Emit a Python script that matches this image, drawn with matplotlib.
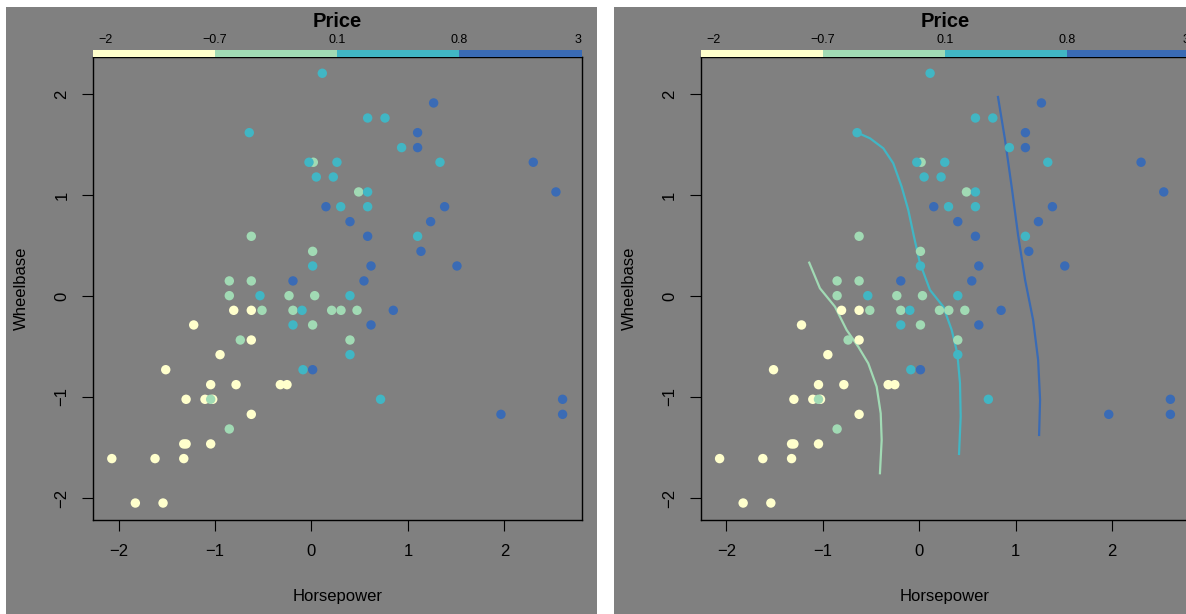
import numpy as np
import matplotlib.pyplot as plt
from matplotlib.patches import Rectangle

plt.rcParams['font.family'] = ['Liberation Sans', 'DejaVu Sans']

# price classes: 0 -> [-2,-0.7), 1 -> [-0.7,0.1), 2 -> [0.1,0.8), 3 -> [0.8,3]
price_breaks = ['\u22122', '\u22120.7', '0.1', '0.8', '3']
class_colors = ['#FFFFCC', '#A1DAB4', '#41B6C4', '#3A6BB5']

horsepower = [0.112, 0.582, 0.762, -0.645, 1.266, 1.100, 0.934, 1.100, 0.019, -0.026,
              0.264, 1.332, 2.299, 0.050, 0.226, 0.489, 0.582, 2.534, 0.150, 0.303,
              0.582, 1.380, 0.399, 1.235, -0.624, 0.582, 1.100, 0.012, 1.135, 0.012,
              0.617, 1.508, -0.852, -0.624, -0.192, 0.544, -0.852, -0.534, -0.233, 0.033,
              0.399, -0.806, -0.624, -0.513, -0.192, -0.098, 0.209, 0.306, 0.472, 0.848,
              -1.221, -0.192, 0.012, 0.617, -0.738, -0.624, 0.399, -0.948, 0.399, -1.511,
              -0.088, 0.012, -1.045, -0.782, -0.323, -0.254, -1.300, -1.104, -1.024, -1.045,
              0.716, 2.603, -0.624, 1.964, 2.603, -0.852, -1.324, -1.300, -1.045, -2.070,
              -1.622, -1.324, -1.826, -1.539]
wheelbase = [2.205, 1.762, 1.762, 1.617, 1.911, 1.617, 1.469, 1.469, 1.324, 1.324,
             1.324, 1.324, 1.324, 1.178, 1.178, 1.030, 1.030, 1.030, 0.884, 0.884,
             0.884, 0.884, 0.736, 0.736, 0.591, 0.591, 0.591, 0.442, 0.442, 0.297,
             0.297, 0.297, 0.149, 0.149, 0.149, 0.149, 0.003, 0.003, 0.003, 0.003,
             0.003, -0.142, -0.142, -0.142, -0.142, -0.142, -0.142, -0.142, -0.142, -0.142,
             -0.287, -0.287, -0.287, -0.287, -0.436, -0.436, -0.436, -0.581, -0.581, -0.730,
             -0.730, -0.730, -0.878, -0.878, -0.878, -0.878, -1.023, -1.023, -1.023, -1.023,
             -1.023, -1.023, -1.172, -1.172, -1.172, -1.317, -1.465, -1.465, -1.465, -1.610,
             -1.610, -1.610, -2.050, -2.050]
price_class = [2, 2, 2, 2, 3, 3, 2, 3, 1, 2,
               2, 2, 3, 2, 2, 1, 2, 3, 3, 2,
               2, 3, 3, 3, 1, 3, 2, 1, 3, 2,
               3, 3, 1, 1, 3, 3, 1, 2, 1, 1,
               2, 0, 0, 1, 1, 2, 1, 1, 1, 3,
               0, 2, 1, 3, 1, 0, 1, 0, 2, 0,
               2, 3, 0, 0, 0, 0, 0, 0, 0, 1,
               2, 3, 0, 3, 3, 1, 0, 0, 0, 0,
               0, 0, 0, 0]

# class boundary curves (right panel)
line_green_x = [-1.141, -1.030, -0.874, -0.753, -0.633, -0.529, -0.442, -0.400, -0.390, -0.408]
line_green_y = [0.330, 0.076, -0.106, -0.337, -0.502, -0.667, -0.898, -1.162, -1.426, -1.755]
line_teal_x = [-0.643, -0.511, -0.373, -0.270, -0.183, -0.114, -0.055, 0.007, 0.111, 0.249,
               0.336, 0.394, 0.422, 0.429, 0.412]
line_teal_y = [1.617, 1.561, 1.462, 1.314, 1.082, 0.851, 0.587, 0.324, 0.059, -0.106,
               -0.337, -0.568, -0.864, -1.195, -1.564]
line_blue_x = [0.816, 0.889, 0.962, 1.024, 1.097, 1.180, 1.232, 1.252, 1.242]
line_blue_y = [1.970, 1.545, 1.050, 0.604, 0.158, -0.238, -0.634, -1.030, -1.376]

W, H = 1186, 614
fig = plt.figure(figsize=(W / 100, H / 100), dpi=100)
fig.patch.set_facecolor('white')

grey = '#808080'
panel_shift = 607.8


def fx(px):
    return px / W


def fy(py):
    return 1 - py / H


def draw_panel(x0, with_lines):
    # grey panel background
    fig.patches.append(Rectangle((fx(x0 + 6), 0), fx(591), fy(7), transform=fig.transFigure,
                                 facecolor=grey, edgecolor='none', zorder=-10))
    ax = fig.add_axes([fx(x0 + 93), fy(520), fx(488.6), (520 - 57) / H])
    ax.set_facecolor(grey)
    cols = [class_colors[c] for c in price_class]
    ax.scatter(horsepower, wheelbase, c=cols, s=46, edgecolors='none', zorder=3)
    if with_lines:
        ax.plot(line_green_x, line_green_y, color=class_colors[1], lw=1.6, zorder=2)
        ax.plot(line_teal_x, line_teal_y, color=class_colors[2], lw=1.6, zorder=2)
        ax.plot(line_blue_x, line_blue_y, color=class_colors[3], lw=1.6, zorder=2)
    ax.set_xlim(-2.265, 2.80)
    ax.set_ylim(-2.218, 2.366)
    ticks = [-2, -1, 0, 1, 2]
    ax.set_xticks(ticks)
    ax.set_xticklabels([str(t).replace('-', '\u2212') for t in ticks])
    ax.set_yticks(ticks)
    ax.set_yticklabels([str(t).replace('-', '\u2212') for t in ticks], rotation=90, va='center')
    ax.tick_params(direction='out', length=8, width=0.8, pad=9, labelsize=12, colors='black')
    for s in ax.spines.values():
        s.set_linewidth(1.0)
        s.set_color('black')
    ax.set_xlabel('Horsepower', fontsize=12, labelpad=22)
    ax.set_ylabel('Wheelbase', fontsize=12, labelpad=18)

    # colour key on top
    cax = fig.add_axes([fx(x0 + 93), fy(57), fx(488.6), 7 / H])
    for i, c in enumerate(class_colors):
        cax.barh(0, 1, left=i, height=1, color=c, edgecolor='none')
    cax.set_xlim(0, 4)
    cax.set_ylim(-0.5, 0.5)
    cax.axis('off')
    lab_pos = [0.1, 1, 2, 3, 3.97]
    for p, t in zip(lab_pos, price_breaks):
        cax.text(p, 1.95, t, ha='center', va='center', fontsize=9, transform=cax.transData)
    cax.text(2, 4.6, 'Price', ha='center', va='center', fontsize=14.5, fontweight='bold')


draw_panel(0, False)
draw_panel(panel_shift, True)

fig.savefig('out.png', dpi=100, facecolor='white')
